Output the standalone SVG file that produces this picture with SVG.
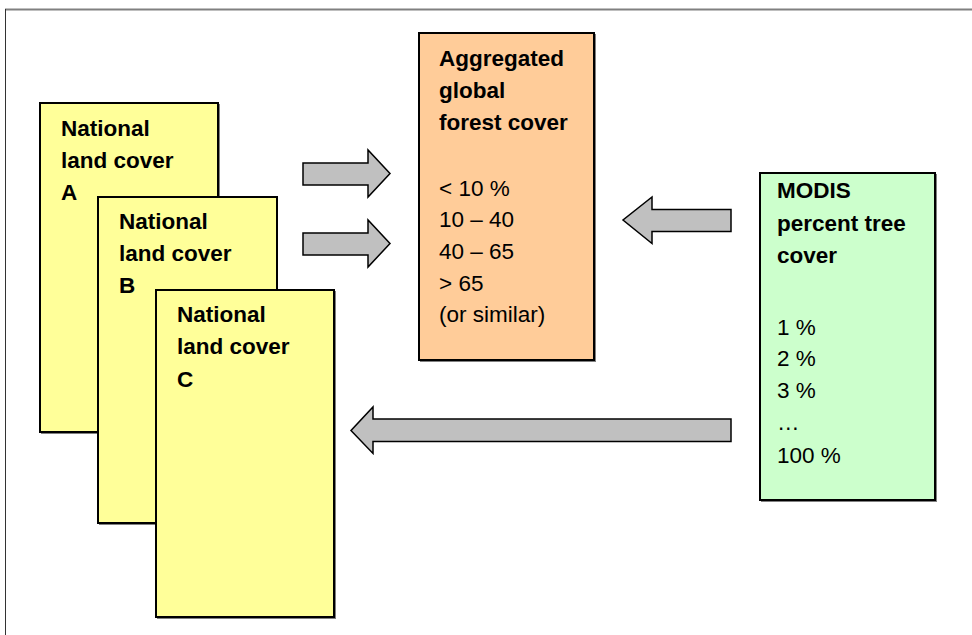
<svg xmlns="http://www.w3.org/2000/svg" width="972" height="635" viewBox="0 0 972 635">
<style>
.bg{fill:#ffffff}
.box{stroke:#000;stroke-width:2}
.shadow{fill:#808080}
.yellow{fill:#FFFF99}
.orange{fill:#FFCC99}
.green{fill:#CCFFCC}
.arrow{fill:#C0C0C0;stroke:#000;stroke-width:1.5;stroke-linejoin:miter}
.t{font-family:"Liberation Sans",Arial,sans-serif;font-size:22.5px;fill:#000}
.b{font-weight:bold}
</style>
<rect class="bg" x="0" y="0" width="972" height="635"/>
<g id="frame">
<line x1="5" y1="9.5" x2="972" y2="9.5" stroke="#808080" stroke-width="2"/>
<line x1="5.5" y1="9" x2="5.5" y2="635" stroke="#333" stroke-width="1"/>
</g>
<g id="nodeA">
<rect class="shadow" x="41" y="104" width="179" height="330"/>
<rect class="box yellow" x="40" y="103" width="178" height="329"/>
<text class="t b" x="61" y="136">National</text>
<text class="t b" x="61" y="168">land cover</text>
<text class="t b" x="61" y="200">A</text>
</g>
<g id="nodeB">
<rect class="shadow" x="99" y="198" width="179" height="327"/>
<rect class="box yellow" x="98" y="197" width="179" height="326"/>
<text class="t b" x="119" y="229">National</text>
<text class="t b" x="119" y="261">land cover</text>
<text class="t b" x="119" y="293">B</text>
</g>
<g id="nodeC">
<rect class="shadow" x="157" y="291" width="179" height="328"/>
<rect class="box yellow" x="156" y="290" width="178" height="327"/>
<text class="t b" x="177" y="322">National</text>
<text class="t b" x="177" y="354">land cover</text>
<text class="t b" x="177" y="387">C</text>
</g>
<g id="nodeAgg">
<rect class="shadow" x="420" y="34" width="176" height="328"/>
<rect class="box orange" x="419" y="33" width="175" height="327"/>
<text class="t b" x="439" y="66">Aggregated</text>
<text class="t b" x="439" y="98">global</text>
<text class="t b" x="439" y="130">forest cover</text>
<text class="t" x="439" y="196">&lt; 10 %</text>
<text class="t" x="439" y="227">10 – 40</text>
<text class="t" x="439" y="259">40 – 65</text>
<text class="t" x="439" y="291">&gt; 65</text>
<text class="t" x="439" y="322">(or similar)</text>
</g>
<g id="nodeModis">
<rect class="shadow" x="761" y="174" width="176" height="328"/>
<rect class="box green" x="760" y="173" width="175" height="327"/>
<text class="t b" x="777" y="198">MODIS</text>
<text class="t b" x="777" y="231">percent tree</text>
<text class="t b" x="777" y="263">cover</text>
<text class="t" x="777" y="335">1 %</text>
<text class="t" x="777" y="366">2 %</text>
<text class="t" x="777" y="398">3 %</text>
<text class="t" x="777" y="430">…</text>
<text class="t" x="777" y="463">100 %</text>
</g>
<g id="connectors">
<polygon class="arrow" points="303,163 368,163 368,150 390,173.5 368,197 368,185 303,185"/>
<polygon class="arrow" points="303,233 368,233 368,220 390,243.5 368,267 368,255 303,255"/>
<polygon class="arrow" points="731,209.5 652,209.5 652,197 623,220 652,243.5 652,231.5 731,231.5"/>
<polygon class="arrow" points="731,419 373,419 373,407 351,430.5 373,453.5 373,441.5 731,441.5"/>
</g>
</svg>
